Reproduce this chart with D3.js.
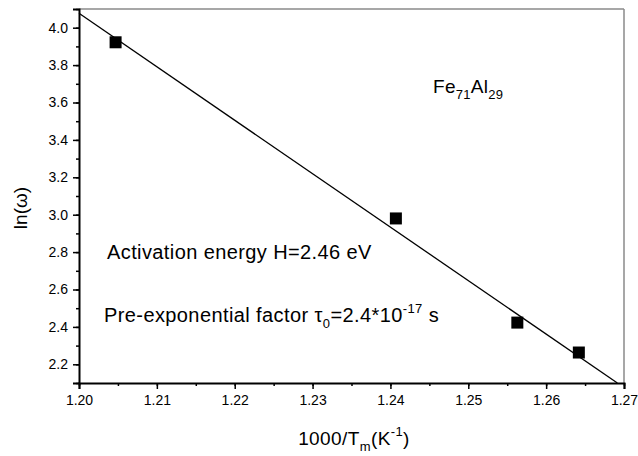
<!DOCTYPE html>
<html><head><meta charset="utf-8">
<script src="https://cdn.jsdelivr.net/npm/d3@7"></script>
<style>
body{margin:0;background:#fff;}
svg text{font-family:"Liberation Sans",Arial,sans-serif;fill:#000;}
</style></head>
<body><svg id="c" width="638" height="456"></svg>
<script>
const xValues = [1.2047, 1.2407, 1.2563, 1.2642];
const yValues = [3.922, 2.980, 2.423, 2.263];
const fitX = [1.20, 1.26915];
const fitY = [4.077, 2.10];
const xTicks = [1.20, 1.21, 1.22, 1.23, 1.24, 1.25, 1.26, 1.27];
const yTicks = [2.2, 2.4, 2.6, 2.8, 3.0, 3.2, 3.4, 3.6, 3.8, 4.0];

const svg = d3.select("#c");
const L = 79, R = 624, T = 9, B = 383;
const x = d3.scaleLinear().domain([1.20, 1.27]).range([L, R]);
const y = d3.scaleLinear().domain([2.1, 4.1]).range([B, T]);

// frame top/right gray
svg.append("line").attr("x1", L).attr("x2", R).attr("y1", T).attr("y2", T).attr("stroke", "#8a8a8a").attr("stroke-width", 1.5);
svg.append("line").attr("x1", R).attr("x2", R).attr("y1", T).attr("y2", B).attr("stroke", "#8a8a8a").attr("stroke-width", 1.5);

// minor ticks
const xMinor = d3.range(0, 15).map(i => 1.20 + i * 0.005);
const yMinor = d3.range(0, 21).map(i => 2.1 + i * 0.1);
const xAxMinor = d3.axisBottom(x).tickValues(xMinor).tickSize(3).tickFormat("");
const yAxMinor = d3.axisLeft(y).tickValues(yMinor).tickSize(3).tickFormat("");
svg.append("g").attr("transform", `translate(0,${B})`).call(xAxMinor).call(g => g.select(".domain").remove());
svg.append("g").attr("transform", `translate(${L},0)`).call(yAxMinor).call(g => g.select(".domain").remove());

const xAx = d3.axisBottom(x).tickValues(xTicks).tickSize(6).tickPadding(6).tickFormat(d3.format(".2f"));
const yAx = d3.axisLeft(y).tickValues(yTicks).tickSize(6).tickPadding(5).tickFormat(d3.format(".1f"));
const gx = svg.append("g").attr("transform", `translate(0,${B})`).call(xAx);
const gy = svg.append("g").attr("transform", `translate(${L},0)`).call(yAx);
[gx, gy].forEach(g => {
  g.select(".domain").attr("stroke", "#000").attr("stroke-width", 2);
  g.selectAll("text").style("font-size", "14px").style("font-family", "Liberation Sans, Arial, sans-serif").attr("fill", "#333");
});
svg.selectAll(".tick line").attr("stroke", "#000").attr("stroke-width", 1.5);

// fit line
svg.append("path")
  .datum(fitX.map((d, i) => [d, fitY[i]]))
  .attr("d", d3.line().x(d => x(d[0])).y(d => y(d[1])))
  .attr("stroke", "#000").attr("stroke-width", 1.3).attr("fill", "none");

// points
const s = 12;
svg.selectAll("rect.pt").data(xValues).enter().append("rect")
  .attr("class", "pt")
  .attr("x", d => x(d) - s / 2)
  .attr("y", (d, i) => y(yValues[i]) - s / 2)
  .attr("width", s).attr("height", s).attr("fill", "#000");

// annotations
const fe = svg.append("text").attr("x", 433).attr("y", 93).style("font-size", "19px").style("letter-spacing", "0.3px");
fe.append("tspan").text("Fe");
fe.append("tspan").attr("dy", 6).style("font-size", "13px").text("71");
fe.append("tspan").attr("dy", -6).text("Al");
fe.append("tspan").attr("dy", 6).style("font-size", "13px").text("29");

svg.append("text").attr("x", 107).attr("y", 259).style("font-size", "20px").style("letter-spacing", "0.4px").text("Activation energy H=2.46 eV");

const pe = svg.append("text").attr("x", 104).attr("y", 322).style("font-size", "20px").style("letter-spacing", "0.4px");
pe.append("tspan").text("Pre-exponential factor τ");
pe.append("tspan").attr("dy", 6).style("font-size", "13px").text("0");
pe.append("tspan").attr("dy", -6).text("=2.4*10");
pe.append("tspan").attr("dy", -9).style("font-size", "13px").text("-17");
pe.append("tspan").attr("dy", 9).text(" s");

// axis labels
const xl = svg.append("text").attr("x", 354).attr("y", 445).attr("text-anchor", "middle").style("font-size", "19px").style("letter-spacing", "0.4px");
xl.append("tspan").text("1000/T");
xl.append("tspan").attr("dy", 6).style("font-size", "13px").text("m");
xl.append("tspan").attr("dy", -6).text("(K");
xl.append("tspan").attr("dy", -9).style("font-size", "13px").text("-1");
xl.append("tspan").attr("dy", 9).text(")");

svg.append("text").attr("transform", "translate(27,208) rotate(-90)").attr("text-anchor", "middle").style("font-size", "19px").text("ln(ω)");
</script></body></html>
